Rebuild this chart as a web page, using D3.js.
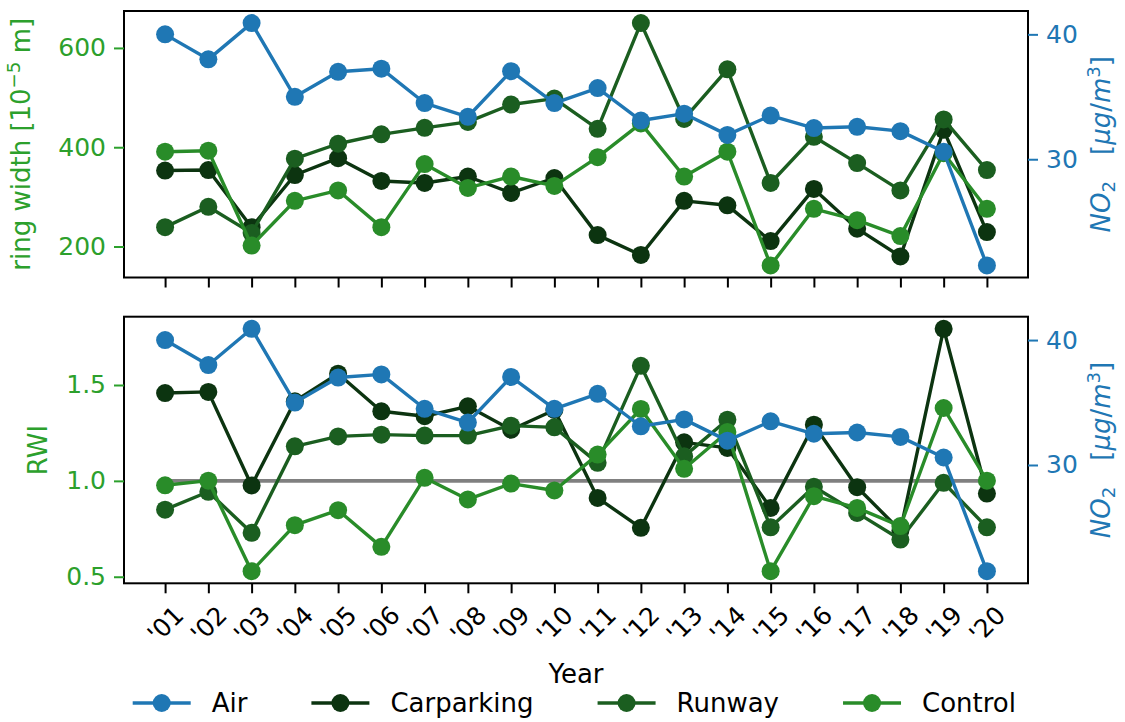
<!DOCTYPE html>
<html>
<head>
<meta charset="utf-8">
<script src="https://cdn.jsdelivr.net/npm/d3@7"></script>
<style>
  html, body { margin: 0; padding: 0; background: #ffffff; }
  svg { font-family: "DejaVu Sans", sans-serif; display: block; }
</style>
</head>
<body>
<svg id="chart" width="1125" height="722"></svg>
<script>
// ---- data -------------------------------------------------------------
const years = ["'01","'02","'03","'04","'05","'06","'07","'08","'09","'10",
               "'11","'12","'13","'14","'15","'16","'17","'18","'19","'20"];

// NO2 concentration at the air-quality station [µg/m³]
const airNO2 = [40.0, 38.0, 40.9, 35.0, 37.0, 37.25, 34.5, 33.4, 37.05, 34.5,
                35.7, 33.1, 33.65, 31.95, 33.5, 32.5, 32.6, 32.25, 30.6, 21.5];

// raw ring width [1e-5 m]
const carparkingRW = [353, 354, 239, 344, 378, 332, 328, 341, 308, 338,
                      223, 183, 292, 283, 211, 316, 236, 180, 435, 229];
const runwayRW     = [239, 280, 227, 377, 407, 426, 439, 451, 486, 498,
                      437, 650, 457, 557, 328, 421, 368, 313, 456, 354];
const controlRW    = [391, 393, 202, 292, 313, 239, 366, 318, 341, 322,
                      380, 448, 341, 391, 162, 276, 253, 221, 388, 276];

// ring width index
const carparkingRWI = [1.458, 1.464, 0.976, 1.415, 1.559, 1.363, 1.337, 1.389, 1.267, 1.37,
                       0.911, 0.755, 1.201, 1.172, 0.859, 1.293, 0.967, 0.74, 1.793, 0.934];
const runwayRWI     = [0.85, 0.943, 0.729, 1.18, 1.232, 1.241, 1.236, 1.236, 1.288, 1.279,
                       1.094, 1.6, 1.128, 1.319, 0.758, 0.969, 0.833, 0.694, 0.99, 0.758];
const controlRWI    = [0.977, 1.001, 0.529, 0.769, 0.847, 0.656, 1.016, 0.903, 0.986, 0.95,
                       1.137, 1.375, 1.063, 1.255, 0.529, 0.92, 0.859, 0.764, 1.38, 1.001];

const rwTicks  = [200, 400, 600];
const rwiTicks = [0.5, 1.0, 1.5];
const no2Ticks = [30, 40];
const rwiReference = 1.0;

const seriesNames = ["Air", "Carparking", "Runway", "Control"];

// ---- styling ----------------------------------------------------------
const colors = {
  Air: "#1f77b4",
  Carparking: "#0c3410",
  Runway: "#1b5e20",
  Control: "#298c29"
};
const leftAxisColor = "#2ca02c";
const rightAxisColor = "#1f77b4";
const TICK_FONT = 25;
const LABEL_FONT = 26;
const LEGEND_FONT = 26;
const LINE_W = 3.4;
const MARK_R = 9;
const TICK_LEN = 10;

const svg = d3.select("#chart");

const plotLeft = 124, plotRight = 1028;
const panels = [
  { top: 11,    bottom: 277.5 },
  { top: 316.7, bottom: 583.3 }
];

const idx = d3.range(years.length);
const x = d3.scaleLinear()
  .domain([-0.05 * (years.length - 1), (years.length - 1) * 1.05])
  .range([plotLeft, plotRight]);

function padded(values) {
  const [lo, hi] = d3.extent(values);
  const r = hi - lo;
  return [lo - 0.05 * r, hi + 0.05 * r];
}

const no2Domain = padded(airNO2);

function drawSeries(g, yScale, values, color) {
  const line = d3.line().x((d, i) => x(i)).y(d => yScale(d));
  g.append("path")
    .attr("d", line(values))
    .attr("fill", "none")
    .attr("stroke", color)
    .attr("stroke-width", LINE_W)
    .attr("stroke-linejoin", "round")
    .attr("stroke-linecap", "round");
  g.selectAll(null).data(values).enter().append("circle")
    .attr("cx", (d, i) => x(i))
    .attr("cy", d => yScale(d))
    .attr("r", MARK_R)
    .attr("fill", color);
}

function styleAxis(g, color) {
  g.select(".domain").remove();
  g.selectAll(".tick line").attr("stroke", color).attr("stroke-width", 2);
  g.selectAll(".tick text")
    .attr("fill", color)
    .attr("font-size", TICK_FONT)
    .attr("font-family", "DejaVu Sans");
}

function drawPanel(p, leftSeries, leftTicks, leftFmt, showXLabels, extraBelow) {
  const yL = d3.scaleLinear()
    .domain(padded(leftSeries.flatMap(s => s.values)))
    .range([p.bottom, p.top]);
  const yR = d3.scaleLinear().domain(no2Domain).range([p.bottom, p.top]);

  const g = svg.append("g");

  if (extraBelow) extraBelow(g, yL);

  // tree-ring series on the left axis
  leftSeries.forEach(s => drawSeries(g, yL, s.values, colors[s.name]));

  // frame
  g.append("rect")
    .attr("x", plotLeft).attr("y", p.top)
    .attr("width", plotRight - plotLeft).attr("height", p.bottom - p.top)
    .attr("fill", "none").attr("stroke", "#000").attr("stroke-width", 2);

  // left axis
  const gl = g.append("g").attr("transform", `translate(${plotLeft},0)`)
    .call(d3.axisLeft(yL).tickValues(leftTicks).tickFormat(leftFmt)
      .tickSize(TICK_LEN).tickPadding(8));
  styleAxis(gl, leftAxisColor);

  // x axis
  const gx = g.append("g").attr("transform", `translate(0,${p.bottom})`)
    .call(d3.axisBottom(x).tickValues(idx)
      .tickFormat(i => showXLabels ? years[i] : "")
      .tickSize(TICK_LEN).tickPadding(8));
  styleAxis(gx, "#000");
  if (showXLabels) {
    gx.selectAll(".tick text")
      .attr("fill", "#000")
      .attr("y", null).attr("dy", null)
      .attr("text-anchor", "middle")
      .attr("dominant-baseline", "central")
      .attr("transform", "translate(0,41) rotate(-45)");
  }

  // NO2 on the twin right axis, drawn on top
  const gr2 = svg.append("g");
  drawSeries(gr2, yR, airNO2, colors.Air);
  const gr = gr2.append("g").attr("transform", `translate(${plotRight},0)`)
    .call(d3.axisRight(yR).tickValues(no2Ticks).tickFormat(d3.format("d"))
      .tickSize(TICK_LEN).tickPadding(8));
  styleAxis(gr, rightAxisColor);

  return { yL, yR };
}

// top panel: raw ring width
drawPanel(panels[0], [
  { name: "Carparking", values: carparkingRW },
  { name: "Runway", values: runwayRW },
  { name: "Control", values: controlRW }
], rwTicks, d3.format("d"), false, null);

// bottom panel: ring width index, with the reference line at 1
drawPanel(panels[1], [
  { name: "Carparking", values: carparkingRWI },
  { name: "Runway", values: runwayRWI },
  { name: "Control", values: controlRWI }
], rwiTicks, d3.format(".1f"), true, (g, yL) => {
  g.append("line")
    .attr("x1", x(0)).attr("x2", x(years.length - 1))
    .attr("y1", yL(rwiReference)).attr("y2", yL(rwiReference))
    .attr("stroke", "#808080").attr("stroke-width", 3.8);
});

// ---- axis titles ------------------------------------------------------
function midY(p) { return (p.top + p.bottom) / 2; }

// left: ring width [10^-5 m]
const t1 = svg.append("text")
  .attr("transform", `translate(30,${midY(panels[0])}) rotate(-90)`)
  .attr("text-anchor", "middle")
  .attr("font-size", LABEL_FONT)
  .attr("fill", leftAxisColor);
t1.append("tspan").text("ring width [10");
t1.append("tspan").attr("font-size", LABEL_FONT * 0.7).attr("dy", -10).text("\u22125");
t1.append("tspan").attr("dy", 10).text(" m]");

svg.append("text")
  .attr("transform", `translate(47,${midY(panels[1])}) rotate(-90)`)
  .attr("text-anchor", "middle")
  .attr("font-size", LABEL_FONT)
  .attr("fill", leftAxisColor)
  .text("RWI");

// right: NO2 [µg/m³]
panels.forEach(p => {
  const t = svg.append("text")
    .attr("transform", `translate(1110,${midY(p)}) rotate(-90)`)
    .attr("text-anchor", "middle")
    .attr("font-size", LABEL_FONT)
    .attr("fill", rightAxisColor);
  t.append("tspan").attr("font-style", "italic").text("NO");
  t.append("tspan").attr("font-size", LABEL_FONT * 0.7).attr("dy", 5).text("2");
  t.append("tspan").attr("dy", -5).text("\u2002\u2002[");
  t.append("tspan").attr("font-style", "italic").text("\u03bcg");
  t.append("tspan").text("/");
  t.append("tspan").attr("font-style", "italic").text("m");
  t.append("tspan").attr("font-size", LABEL_FONT * 0.7).attr("dy", -10).text("3");
  t.append("tspan").attr("dy", 10).text("]");
});

// x title
svg.append("text")
  .attr("x", (plotLeft + plotRight) / 2)
  .attr("y", 683)
  .attr("text-anchor", "middle")
  .attr("font-size", LABEL_FONT)
  .attr("fill", "#000")
  .text("Year");

// ---- legend -----------------------------------------------------------
const legendY = 703;
const handleLen = 58, textPad = 21, colGap = 64;
let lx = 132.7;
const legend = svg.append("g");
seriesNames.forEach(name => {
  legend.append("line")
    .attr("x1", lx).attr("x2", lx + handleLen)
    .attr("y1", legendY).attr("y2", legendY)
    .attr("stroke", colors[name]).attr("stroke-width", LINE_W);
  legend.append("circle")
    .attr("cx", lx + handleLen / 2).attr("cy", legendY)
    .attr("r", MARK_R).attr("fill", colors[name]);
  const t = legend.append("text")
    .attr("x", lx + handleLen + textPad)
    .attr("y", legendY)
    .attr("dy", "0.36em")
    .attr("font-size", LEGEND_FONT)
    .attr("fill", "#000")
    .text(name);
  lx += handleLen + textPad + t.node().getComputedTextLength() + colGap;
});
</script>
</body>
</html>
